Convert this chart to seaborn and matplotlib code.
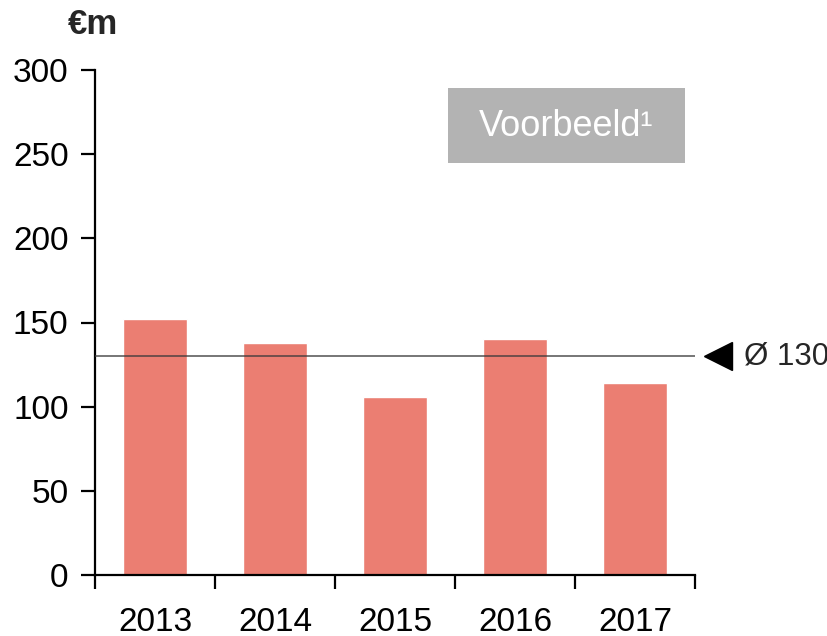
import matplotlib
matplotlib.use("Agg")
import matplotlib.pyplot as plt
import matplotlib.patches as mpatches
import seaborn as sns
import pandas as pd

years = ["2013", "2014", "2015", "2016", "2017"]
values = [152, 138, 106, 140, 114]
average = 130
y_ticks = [0, 50, 100, 150, 200, 250, 300]
unit_label = "€m"
badge_text = "Voorbeeld¹"

sns.set_theme(style="white")
plt.rcParams["font.family"] = ["Liberation Sans", "DejaVu Sans"]

df = pd.DataFrame({"year": years, "value": values})

W, H = 828, 636
fig = plt.figure(figsize=(W / 100, H / 100), dpi=100)
ax = fig.add_axes([95 / W, 1 - 575 / H, 600 / W, 505 / H])

sns.barplot(data=df, x="year", y="value", color="#EB7E72", saturation=1,
            width=0.53, ax=ax)

ax.set_xlim(-0.5, len(years) - 0.5)
ax.set_ylim(0, 300)
ax.set_yticks(y_ticks)
ax.set_xlabel("")
ax.set_ylabel("")

for side in ["top", "right"]:
    ax.spines[side].set_visible(False)
for side in ["left", "bottom"]:
    ax.spines[side].set_color("black")
    ax.spines[side].set_linewidth(1.6)

# year labels centred under bars, tick marks on category boundaries
ax.set_xticks(range(len(years)))
ax.set_xticklabels(years)
ax.set_xticks([i - 0.5 for i in range(len(years) + 1)], minor=True)
ax.tick_params(axis="x", which="major", length=0, pad=23, labelsize=24, colors="black")
ax.tick_params(axis="x", which="minor", length=10, width=1.6, direction="out",
               color="black", bottom=True)
ax.tick_params(axis="y", which="major", length=10, width=1.6, direction="out",
               left=True, pad=9, labelsize=24, colors="black")

# average line with marker and label
ax.axhline(average, color="#3a3a3a", alpha=0.75, lw=1.3, zorder=5)
ax.plot([4.69], [average], marker="<", color="black", markersize=20,
        clip_on=False, zorder=6)
ax.text(4.905, average, f"Ø {average}", fontsize=22.5, va="center", ha="left",
        clip_on=False)

# unit label
fig.text(93 / W, 1 - 24 / H, unit_label, fontsize=25, fontweight="bold",
         ha="center", va="center")

# example badge
fig.patches.append(mpatches.Rectangle((448 / W, 1 - 163 / H), 237 / W, 75 / H,
                                      transform=fig.transFigure,
                                      facecolor="#B3B3B3", edgecolor="none"))
fig.text(566 / W, 1 - 127 / H, badge_text, fontsize=26, color="white",
         ha="center", va="center")

fig.savefig("out.png", dpi=100)
